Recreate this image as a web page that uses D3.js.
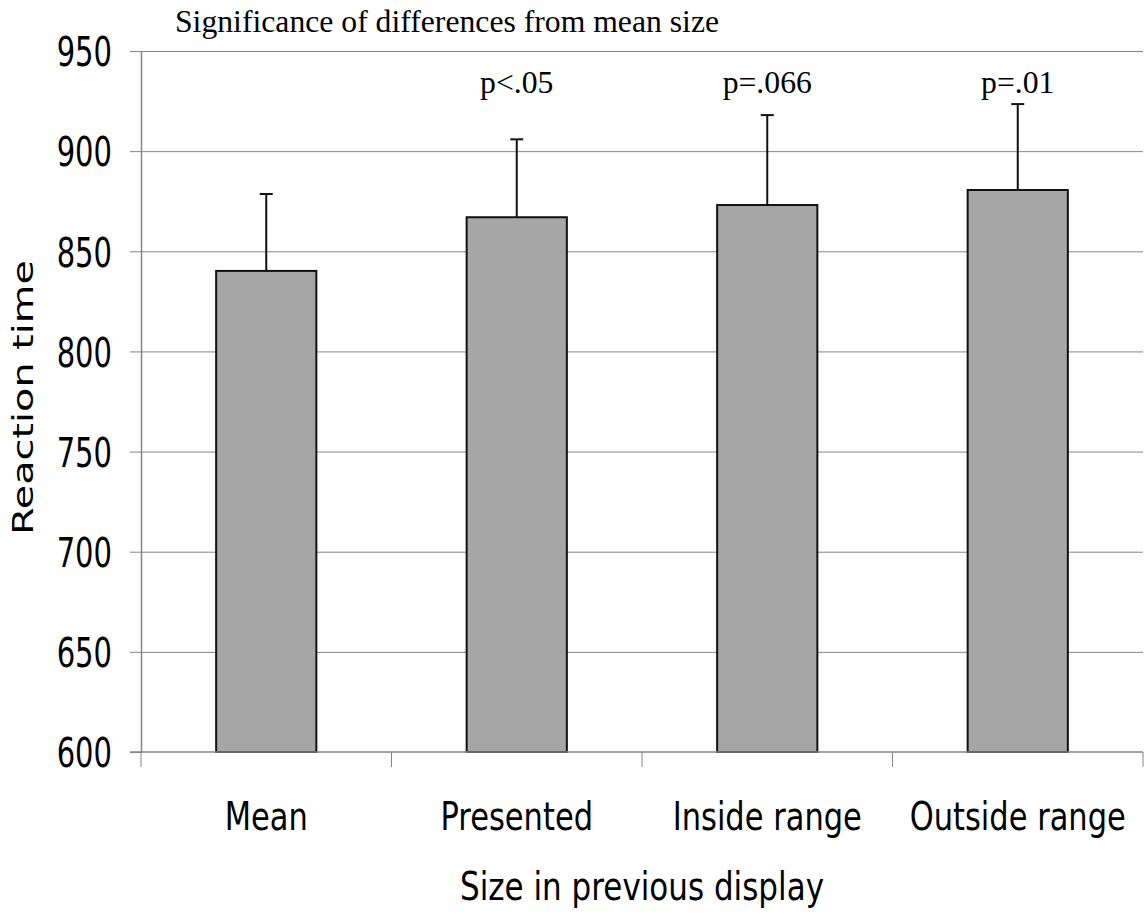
<!DOCTYPE html>
<html>
<head>
<meta charset="utf-8">
<script src="https://cdn.jsdelivr.net/npm/d3@7"></script>
<style>
  body { margin: 0; background: #fff; }
  svg { display: block; }
</style>
</head>
<body>
<svg id="chart" width="1144" height="915"></svg>
<script>
// data
const categories = ["Mean", "Presented", "Inside range", "Outside range"];
const meanRT = [840.2, 867.0, 873.1, 880.6];
const errRT = [38.4, 38.9, 44.9, 42.9];
const pLabels = ["", "p<.05", "p=.066", "p=.01"];
const yTicks = [600, 650, 700, 750, 800, 850, 900, 950];
const chartTitle = "Significance of differences from mean size";
const xTitle = "Size in previous display";
const yTitle = "Reaction time";

const margins = { left: 141, right: 1, top: 51, bottom: 163 };
const svgElement = document.getElementById("chart");
const svg = d3.select(svgElement);
const width = 1144 - margins.left - margins.right;
const height = 915 - margins.top - margins.bottom;
const sans = "DejaVu Sans, Verdana, sans-serif";
const serif = "Liberation Serif, Times New Roman, serif";

const g = svg.append("g").attr("transform", `translate(${margins.left}, ${margins.top})`);

const x = d3.scaleBand().domain(categories).range([0, width]).paddingInner(0.6).paddingOuter(0.3);
const y = d3.scaleLinear().domain([600, 950]).range([height, 0]);

// gridlines
g.append("g")
  .call(d3.axisLeft(y).tickValues(yTicks.slice(1)).tickSize(-width).tickFormat(""))
  .call((a) => a.select(".domain").remove())
  .selectAll("line")
  .attr("stroke", "#858585")
  .attr("stroke-width", 1);

// y axis
const yAxis = g.append("g").call(d3.axisLeft(y).tickValues(yTicks).tickSize(11).tickSizeOuter(0));
yAxis.select(".domain").attr("stroke", "#858585").attr("stroke-width", 1.5);
yAxis.selectAll(".tick line").attr("stroke", "#858585");
yAxis.selectAll(".tick text").remove();
yAxis.selectAll(".tick")
  .append("text")
  .attr("transform", "translate(-29, 0) scale(1, 1.4)")
  .attr("text-anchor", "end")
  .attr("dy", "0.365em")
  .attr("fill", "#000")
  .style("font-family", sans)
  .style("font-size", "29px")
  .text((d) => d);

// bars
g.selectAll(".bar")
  .data(categories)
  .join("rect")
  .attr("class", "bar")
  .attr("x", (d) => x(d))
  .attr("width", x.bandwidth())
  .attr("y", (d, i) => y(meanRT[i]))
  .attr("height", (d, i) => height - y(meanRT[i]))
  .attr("fill", "#a6a6a6")
  .attr("stroke", "#111")
  .attr("stroke-width", 2);

// error bars (upper only)
const err = g.selectAll(".err").data(categories).join("g").attr("class", "err");
err.append("line")
  .attr("x1", (d) => x(d) + x.bandwidth() / 2)
  .attr("x2", (d) => x(d) + x.bandwidth() / 2)
  .attr("y1", (d, i) => y(meanRT[i]))
  .attr("y2", (d, i) => y(meanRT[i] + errRT[i]))
  .attr("stroke", "#111")
  .attr("stroke-width", 2);
err.append("line")
  .attr("x1", (d) => x(d) + x.bandwidth() / 2 - 6.5)
  .attr("x2", (d) => x(d) + x.bandwidth() / 2 + 6.5)
  .attr("y1", (d, i) => y(meanRT[i] + errRT[i]))
  .attr("y2", (d, i) => y(meanRT[i] + errRT[i]))
  .attr("stroke", "#111")
  .attr("stroke-width", 2);

// x axis
const boundaries = categories.map((d) => x(d) - x.step() * 0.3).concat([width]);
const xAxis = g.append("g").attr("transform", `translate(0, ${height})`);
xAxis.append("line")
  .attr("x1", -11).attr("x2", width)
  .attr("stroke", "#858585").attr("stroke-width", 1.5);
xAxis.selectAll(".xtick")
  .data(boundaries)
  .join("line")
  .attr("class", "xtick")
  .attr("x1", (d) => d).attr("x2", (d) => d)
  .attr("y1", 0).attr("y2", 15)
  .attr("stroke", "#858585");
xAxis.selectAll(".xlab")
  .data(categories)
  .join("text")
  .attr("class", "xlab")
  .attr("transform", (d) => `translate(${x(d) + x.bandwidth() / 2}, 78) scale(1, 1.3)`)
  .attr("text-anchor", "middle")
  .style("font-family", sans)
  .style("font-size", "30.5px")
  .text((d) => d);

// p-value notes
g.selectAll(".pval")
  .data(pLabels)
  .join("text")
  .attr("class", "pval")
  .attr("x", (d, i) => x(categories[i]) + x.bandwidth() / 2)
  .attr("y", 42)
  .attr("text-anchor", "middle")
  .style("font-family", serif)
  .style("font-size", "31.7px")
  .text((d) => d);

// titles
svg.append("text")
  .attr("x", margins.left + 34)
  .attr("y", 32)
  .style("font-family", serif)
  .style("font-size", "31.7px")
  .text(chartTitle);

svg.append("text")
  .attr("transform", `translate(${margins.left + width / 2}, 900) scale(1, 1.25)`)
  .attr("text-anchor", "middle")
  .style("font-family", sans)
  .style("font-size", "31px")
  .text(xTitle);

svg.append("text")
  .attr("transform", `translate(33, ${margins.top + height / 2 - 4}) rotate(-90) scale(1.4, 1)`)
  .attr("text-anchor", "middle")
  .style("font-family", sans)
  .style("font-size", "28.4px")
  .text(yTitle);
</script>
</body>
</html>
